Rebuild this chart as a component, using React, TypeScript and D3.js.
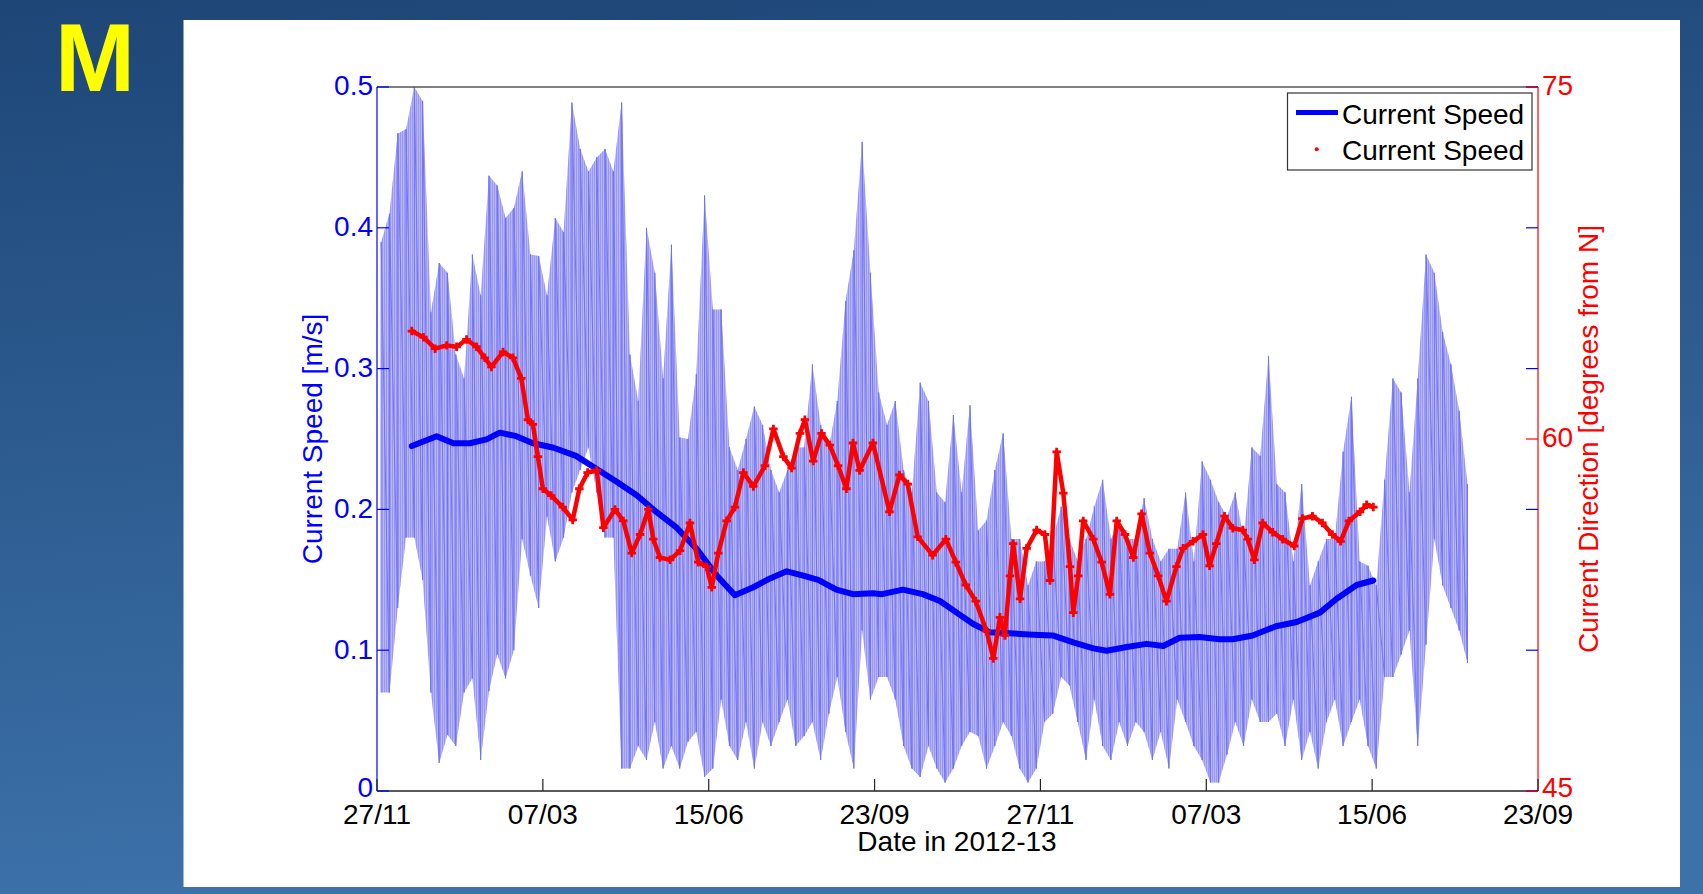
import React from "react";
import * as d3 from "d3";

// ---------- data ----------
const xTickDays = [0, 100, 200, 300, 400, 500, 600, 700];
const xTickLabels = ["27/11", "07/03", "15/06", "23/09", "27/11", "07/03", "15/06", "23/09"];
const speedTicks = [0, 0.1, 0.2, 0.3, 0.4, 0.5];
const dirTicks = [45, 60, 75];
const dirTickMarks = [45, 60, 75];

// raw hourly speed: envelope (local max / min) per ~5-day window
const rawDays = [
  2.5, 7.5, 12.5, 17.5, 22.5, 27.5, 32.5, 37.5, 42.5, 47.5, 52.5, 57.5, 62.5, 67.5, 72.5, 77.5, 82.5, 87.5, 92.5, 97.5,
  102.5, 107.5, 112.5, 117.5, 122.5, 127.5, 132.5, 137.5, 142.5, 147.5, 152.5, 157.5, 162.5, 167.5, 172.5, 177.5, 182.5, 187.5, 192.5, 197.5,
  202.5, 207.5, 212.5, 217.5, 222.5, 227.5, 232.5, 237.5, 242.5, 247.5, 252.5, 257.5, 262.5, 267.5, 272.5, 277.5, 282.5, 287.5, 292.5, 297.5,
  302.5, 307.5, 312.5, 317.5, 322.5, 327.5, 332.5, 337.5, 342.5, 347.5, 352.5, 357.5, 362.5, 367.5, 372.5, 377.5, 382.5, 387.5, 392.5, 397.5,
  402.5, 407.5, 412.5, 417.5, 422.5, 427.5, 432.5, 437.5, 442.5, 447.5, 452.5, 457.5, 462.5, 467.5, 472.5, 477.5, 482.5, 487.5, 492.5, 497.5,
  502.5, 507.5, 512.5, 517.5, 522.5, 527.5, 532.5, 537.5, 542.5, 547.5, 552.5, 557.5, 562.5, 567.5, 572.5, 577.5, 582.5, 587.5, 592.5, 597.5,
  602.5, 607.5, 612.5, 617.5, 622.5, 627.5, 632.5, 637.5, 642.5, 647.5, 652.5, 657.5,
];
const rawHigh = [
  0.39, 0.41, 0.467, 0.47, 0.5, 0.49, 0.34, 0.375, 0.368, 0.31, 0.293, 0.381, 0.352, 0.437, 0.43, 0.407, 0.414, 0.44, 0.381, 0.38,
  0.352, 0.407, 0.397, 0.489, 0.456, 0.44, 0.45, 0.456, 0.44, 0.489, 0.31, 0.277, 0.4, 0.368, 0.293, 0.388, 0.251, 0.25, 0.296, 0.423,
  0.342, 0.342, 0.244, 0.228, 0.25, 0.273, 0.26, 0.228, 0.212, 0.228, 0.244, 0.244, 0.303, 0.26, 0.244, 0.277, 0.348, 0.384, 0.461, 0.368,
  0.283, 0.26, 0.277, 0.228, 0.212, 0.29, 0.277, 0.212, 0.205, 0.267, 0.212, 0.274, 0.185, 0.192, 0.228, 0.254, 0.179, 0.179, 0.146, 0.163,
  0.163, 0.179, 0.202, 0.179, 0.163, 0.179, 0.202, 0.221, 0.179, 0.192, 0.179, 0.179, 0.208, 0.179, 0.163, 0.172, 0.172, 0.212, 0.163, 0.234,
  0.221, 0.205, 0.195, 0.212, 0.179, 0.244, 0.238, 0.309, 0.218, 0.212, 0.163, 0.218, 0.146, 0.163, 0.179, 0.179, 0.241, 0.28, 0.163, 0.16,
  0.146, 0.221, 0.293, 0.283, 0.212, 0.293, 0.381, 0.368, 0.326, 0.303, 0.27, 0.218,
];
const rawLow = [
  0.07, 0.07, 0.13, 0.18, 0.18, 0.15, 0.07, 0.02, 0.04, 0.032, 0.07, 0.08, 0.022, 0.071, 0.097, 0.08, 0.1, 0.179, 0.153, 0.13,
  0.195, 0.163, 0.18, 0.212, 0.228, 0.244, 0.212, 0.18, 0.18, 0.016, 0.016, 0.032, 0.022, 0.049, 0.016, 0.032, 0.016, 0.035, 0.042, 0.01,
  0.016, 0.065, 0.032, 0.022, 0.049, 0.016, 0.049, 0.032, 0.049, 0.065, 0.032, 0.039, 0.049, 0.022, 0.055, 0.081, 0.042, 0.016, 0.114, 0.065,
  0.081, 0.081, 0.065, 0.032, 0.016, 0.01, 0.032, 0.016, 0.006, 0.016, 0.032, 0.042, 0.039, 0.016, 0.032, 0.049, 0.039, 0.016, 0.006, 0.016,
  0.049, 0.055, 0.081, 0.075, 0.049, 0.022, 0.065, 0.032, 0.022, 0.049, 0.032, 0.049, 0.042, 0.022, 0.042, 0.016, 0.065, 0.049, 0.032, 0.022,
  0.006, 0.006, 0.026, 0.049, 0.032, 0.065, 0.049, 0.049, 0.055, 0.032, 0.065, 0.022, 0.042, 0.016, 0.049, 0.065, 0.032, 0.049, 0.065, 0.032,
  0.016, 0.081, 0.081, 0.097, 0.114, 0.032, 0.104, 0.179, 0.146, 0.13, 0.114, 0.091,
];

// smoothed speed (thick blue line)
const smoothDays = [
  21, 36, 46, 56, 66, 74, 84, 94, 106, 120, 132, 144.5, 156.6, 168.6, 180.7, 192.7, 204.8, 215.8, 226.9, 237,
  247, 257, 266, 277, 287, 299, 304.5, 317, 329, 339.4, 349.5, 359.5, 369.6, 381.6, 395.7, 407.8, 419.8, 431.9, 439.9, 452,
  464, 474, 484, 496, 508, 516, 528, 542, 554.5, 568.5, 578.6, 590.7, 600.7,
];
const smoothSpeed = [
  0.245, 0.252, 0.247, 0.247, 0.2497, 0.2545, 0.252, 0.247, 0.244, 0.238, 0.229, 0.2197, 0.21, 0.198, 0.187, 0.172, 0.153, 0.139, 0.1447, 0.151,
  0.156, 0.153, 0.15, 0.143, 0.1398, 0.1404, 0.1398, 0.143, 0.1398, 0.135, 0.1267, 0.1186, 0.1127, 0.112, 0.111, 0.1104, 0.1055, 0.1013, 0.0996, 0.1023,
  0.1045, 0.103, 0.1088, 0.1094, 0.1078, 0.1078, 0.1104, 0.117, 0.12, 0.1267, 0.1365, 0.1463, 0.1495,
];

// current direction (red markers)
const dirDays = [
  21, 28, 35, 42, 48, 54, 60, 65, 69, 76, 82, 87, 91, 94, 97, 100, 105, 112, 118, 122,
  127, 132.5, 136.5, 143.5, 148.5, 153.6, 158.6, 163.6, 166.6, 170.6, 176.7, 182.7, 188.7, 193.7, 198.8, 201.8, 205.8, 210.8, 215.8, 220.9,
  226.9, 233.9, 239, 245, 250, 255, 258, 263, 268, 273, 278, 283, 287, 291, 299, 309, 315, 320, 326, 335,
  343, 349, 355, 361, 367.5, 371.6, 375.6, 378.6, 381.6, 383.6, 387.7, 391.7, 397.7, 402.7, 405.8, 409.8, 413.8, 417.8, 419.8, 422.8,
  425.8, 431.9, 436.9, 441.9, 446, 451, 456, 461, 466, 471, 476, 482, 486, 492, 498, 502, 506, 511, 516, 522,
  525, 529, 534, 540, 546, 553, 558, 564, 570, 576, 581, 586, 592.7, 596.7, 600.7,
];
const dirDeg = [
  64.6, 64.34, 63.85, 63.99, 63.93, 64.24, 63.93, 63.46, 63.07, 63.71, 63.46, 62.58, 60.82, 60.62, 59.25, 57.88, 57.59, 57.1, 56.55, 57.88,
  58.57, 58.66, 56.22, 57.0, 56.51, 55.14, 55.93, 57.0, 55.73, 54.95, 54.85, 55.24, 56.42, 54.75, 54.56, 53.68, 55.14, 56.51, 57.1, 58.57,
  57.98, 58.86, 60.43, 59.25, 58.76, 60.24, 60.82, 59.06, 60.24, 59.74, 58.86, 57.88, 59.83, 58.66, 59.83, 56.9, 58.47, 58.08, 55.83, 55.05,
  55.73, 54.75, 53.78, 53.09, 51.82, 50.65, 52.4, 51.63, 54.17, 55.54, 53.19, 55.34, 56.12, 55.93, 53.97, 59.45, 57.69, 54.56, 52.6, 54.17,
  56.51, 55.73, 54.75, 53.38, 56.51, 55.93, 54.95, 56.81, 55.14, 54.17, 53.09, 54.56, 55.34, 55.64, 55.93, 54.6, 55.54, 56.71, 56.2, 56.12,
  55.73, 54.85, 56.42, 56.03, 55.73, 55.44, 56.61, 56.71, 56.42, 55.93, 55.64, 56.51, 56.9, 57.2, 57.1,
];

const legendLabels = ["Current Speed", "Current Speed"];
const xAxisTitle = "Date in 2012-13";
const leftAxisTitle = "Current Speed [m/s]";
const rightAxisTitle = "Current Direction [degrees from N]";
const cornerLetter = "M";

// ---------- component ----------
export default function App() {
  const W = 1703;
  const H = 894;
  const L = 377, R = 1538, T = 87, B = 791;
  const FONT = "'Liberation Sans', Arial, Helvetica, sans-serif";
  const BLUE = "#0000ff";
  const RED = "#ff0000";
  const RAW = "#7272f2";
  const tick = 12;

  const x = d3.scaleLinear().domain([0, 700]).range([L, R]);
  const yS = d3.scaleLinear().domain([0, 0.5]).range([B, T]);
  const yD = d3.scaleLinear().domain([45, 75]).range([B, T]);

  const envelope = d3
    .area<number>()
    .x((d) => x(d))
    .y0((_, i) => yS(rawLow[i]))
    .y1((_, i) => yS(rawHigh[i]))(rawDays) as string;

  // each window: a vertical stroke from its minimum to its maximum, then on to the next window
  const zigPts: [number, number][] = [];
  rawDays.forEach((d, i) => {
    zigPts.push([x(d), yS(rawLow[i])]);
    zigPts.push([x(d), yS(rawHigh[i])]);
  });
  const zigzag = d3.line()(zigPts) as string;

  const smoothPath = d3
    .line<number>()
    .x((d) => x(d))
    .y((_, i) => yS(smoothSpeed[i]))(smoothDays) as string;

  const dirPath = d3
    .line<number>()
    .x((d) => x(d))
    .y((_, i) => yD(dirDeg[i]))(dirDays) as string;

  const cross = d3.symbol().type(d3.symbolCross).size(40)() as string;

  return (
    <svg
      width={W}
      height={H}
      style={{ position: "absolute", left: 0, top: 0, display: "block" }}
      fontFamily={FONT}
    >
      <defs>
        <linearGradient id="bg" x1="0" y1="0" x2="0.15" y2="1">
          <stop offset="0" stopColor="#1e4677" />
          <stop offset="1" stopColor="#3c71a9" />
        </linearGradient>
        <pattern id="hatch" width="2" height="8" patternUnits="userSpaceOnUse">
          <rect x="0" y="0" width="1" height="8" fill={RAW} />
        </pattern>
        <clipPath id="plotclip">
          <rect x={L} y={T} width={R - L} height={B - T} />
        </clipPath>
      </defs>

      <rect x={0} y={0} width={W} height={H} fill="url(#bg)" />
      <rect x={183.5} y={20} width={1496.5} height={867} fill="#ffffff" />

      <text x={95} y={91} textAnchor="middle" fontSize={96} fontWeight="bold" fill="#ffff00">
        {cornerLetter}
      </text>

      {/* raw data */}
      <g clipPath="url(#plotclip)">
        <path d={envelope} fill={RAW} fillOpacity={0.5} />
        <path d={envelope} fill="url(#hatch)" opacity={0.45} />
        <path d={zigzag} fill="none" stroke={RAW} strokeWidth={1} />
      </g>

      {/* smoothed speed */}
      <path
        d={smoothPath}
        fill="none"
        stroke={BLUE}
        strokeWidth={6}
        strokeLinejoin="round"
        strokeLinecap="round"
      />

      {/* direction */}
      <path d={dirPath} fill="none" stroke={RED} strokeWidth={4.5} strokeLinejoin="round" />
      {dirDays.map((d, i) => (
        <path key={i} d={cross} transform={`translate(${x(d)},${yD(dirDeg[i])})`} fill={RED} />
      ))}

      {/* box lines */}
      <line x1={L} x2={R} y1={T} y2={T} stroke="#555" strokeWidth={1.5} />
      <line x1={L} x2={R} y1={B} y2={B} stroke="#222" strokeWidth={1.3} />
      <line x1={L} x2={L} y1={T} y2={B} stroke={BLUE} strokeWidth={1.2} />
      <line x1={R} x2={R} y1={T} y2={B} stroke={RED} strokeWidth={1.2} />

      {/* x ticks */}
      {xTickDays.map((d, i) => (
        <g key={"xt" + i}>
          <line x1={x(d)} x2={x(d)} y1={B} y2={B - tick} stroke="#222" strokeWidth={1.2} />
          <text x={x(d)} y={824} textAnchor="middle" fontSize={28} fill="#000">
            {xTickLabels[i]}
          </text>
        </g>
      ))}

      {/* left ticks */}
      {speedTicks.map((v, i) => (
        <g key={"ys" + i}>
          <line x1={L} x2={L + tick} y1={yS(v)} y2={yS(v)} stroke={BLUE} strokeWidth={1.2} />
          <line x1={R - tick} x2={R} y1={yS(v)} y2={yS(v)} stroke={BLUE} strokeWidth={1.2} />
          <text x={373} y={yS(v)} dy={v === 0 ? "0.2em" : "0.3em"} textAnchor="end" fontSize={28} fill={BLUE}>
            {String(v)}
          </text>
        </g>
      ))}

      {/* right ticks */}
      {dirTickMarks.map((v, i) => (
        <line key={"ydm" + i} x1={R - tick} x2={R} y1={yD(v)} y2={yD(v)} stroke={RED} strokeWidth={1.2} />
      ))}
      {dirTicks.map((v, i) => (
        <text key={"yd" + i} x={1542} y={yD(v)} dy={v === 45 ? "0.2em" : "0.3em"} textAnchor="start" fontSize={28} fill={RED}>
          {String(v)}
        </text>
      ))}

      {/* axis titles */}
      <text x={957} y={851} textAnchor="middle" fontSize={28} fill="#000">
        {xAxisTitle}
      </text>
      <text transform={`translate(322,${(T + B) / 2}) rotate(-90)`} textAnchor="middle" fontSize={28} fill={BLUE}>
        {leftAxisTitle}
      </text>
      <text transform={`translate(1598,${(T + B) / 2}) rotate(-90)`} textAnchor="middle" fontSize={28} fill={RED}>
        {rightAxisTitle}
      </text>

      {/* legend */}
      <rect x={1287.5} y={93} width={244.5} height={77} fill="#fff" stroke="#333" strokeWidth={1.2} />
      <line x1={1296} x2={1338} y1={112.5} y2={112.5} stroke={BLUE} strokeWidth={5} />
      <text x={1342} y={124} fontSize={28} fill="#000">
        {legendLabels[0]}
      </text>
      <circle cx={1316.7} cy={149.3} r={2} fill={RED} />
      <text x={1342} y={160} fontSize={28} fill="#000">
        {legendLabels[1]}
      </text>
    </svg>
  );
}
